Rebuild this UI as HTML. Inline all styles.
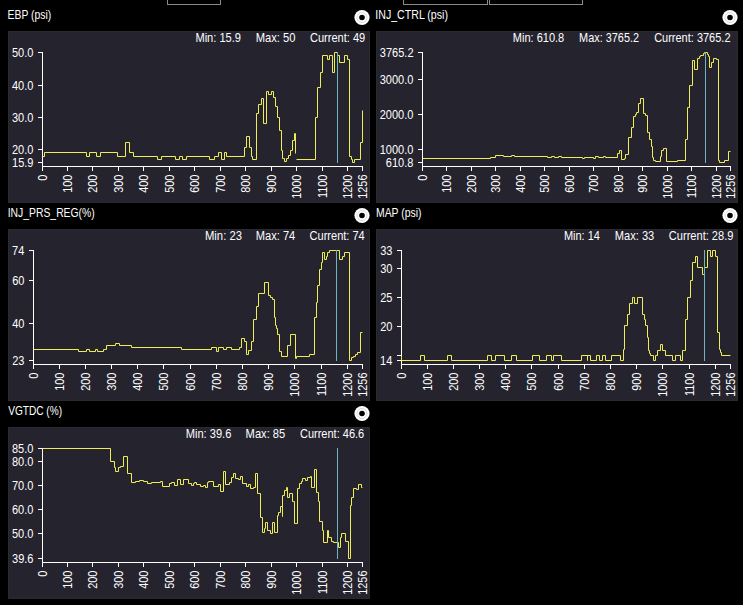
<!DOCTYPE html><html><head><meta charset="utf-8"><style>html,body{margin:0;padding:0;background:#000;}svg{display:block}</style></head><body>
<svg width="743" height="605" viewBox="0 0 743 605" font-family="&quot;Liberation Sans&quot;, sans-serif" font-size="12">
<rect x="0" y="0" width="743" height="605" fill="#000000"/>
<rect x="167" y="0" width="1" height="5" fill="#8a8a8a"/>
<rect x="220" y="0" width="1" height="5" fill="#8a8a8a"/>
<rect x="167" y="4" width="54" height="1" fill="#8a8a8a"/>
<rect x="403" y="0" width="1" height="5" fill="#8a8a8a"/>
<rect x="487" y="0" width="1" height="5" fill="#8a8a8a"/>
<rect x="403" y="4" width="85" height="1" fill="#8a8a8a"/>
<rect x="489" y="0" width="1" height="5" fill="#8a8a8a"/>
<rect x="582" y="0" width="1" height="5" fill="#8a8a8a"/>
<rect x="489" y="4" width="94" height="1" fill="#8a8a8a"/>
<rect x="8" y="31" width="362" height="172" fill="#24232e"/>
<rect x="8.5" y="31.5" width="361" height="171" fill="none" stroke="#2b2a2f" stroke-width="1"/>
<text transform="translate(7.55,19) scale(0.8658,1)" fill="#ffffff">EBP (psi)</text>
<circle cx="362" cy="17.5" r="7.6" fill="#ffffff"/>
<circle cx="362" cy="17.5" r="5" fill="none" stroke="#d8d8d8" stroke-width="1"/>
<circle cx="362" cy="17.5" r="2.8" fill="#000000"/>
<text transform="translate(195.39,42) scale(0.9264,1)" fill="#ffffff">Min: 15.9</text>
<text transform="translate(255.69,42) scale(0.9336,1)" fill="#ffffff">Max: 50</text>
<text transform="translate(309.94,42) scale(0.9225,1)" fill="#ffffff">Current: 49</text>
<rect x="42" y="52" width="1" height="119" fill="#ffffff"/>
<rect x="42" y="166" width="321" height="1" fill="#ffffff"/>
<rect x="38" y="52" width="4" height="1" fill="#ffffff"/>
<text transform="translate(11.94,57) scale(0.9200,1)" fill="#ffffff">50.0</text>
<rect x="38" y="85" width="4" height="1" fill="#ffffff"/>
<text transform="translate(11.94,90) scale(0.9200,1)" fill="#ffffff">40.0</text>
<rect x="38" y="117" width="4" height="1" fill="#ffffff"/>
<text transform="translate(11.94,122) scale(0.9200,1)" fill="#ffffff">30.0</text>
<rect x="38" y="149" width="4" height="1" fill="#ffffff"/>
<text transform="translate(11.94,154) scale(0.9200,1)" fill="#ffffff">20.0</text>
<rect x="38" y="162" width="4" height="1" fill="#ffffff"/>
<text transform="translate(12.03,167) scale(0.9200,1)" fill="#ffffff">15.9</text>
<rect x="42" y="167" width="1" height="4" fill="#ffffff"/>
<text transform="translate(47,180.65) rotate(-90) scale(0.9100,1)" fill="#ffffff">0</text>
<rect x="67" y="167" width="1" height="4" fill="#ffffff"/>
<text transform="translate(72,192.80) rotate(-90) scale(0.9100,1)" fill="#ffffff">100</text>
<rect x="92" y="167" width="1" height="4" fill="#ffffff"/>
<text transform="translate(97,192.80) rotate(-90) scale(0.9100,1)" fill="#ffffff">200</text>
<rect x="118" y="167" width="1" height="4" fill="#ffffff"/>
<text transform="translate(123,192.80) rotate(-90) scale(0.9100,1)" fill="#ffffff">300</text>
<rect x="143" y="167" width="1" height="4" fill="#ffffff"/>
<text transform="translate(148,192.80) rotate(-90) scale(0.9100,1)" fill="#ffffff">400</text>
<rect x="169" y="167" width="1" height="4" fill="#ffffff"/>
<text transform="translate(174,192.80) rotate(-90) scale(0.9100,1)" fill="#ffffff">500</text>
<rect x="194" y="167" width="1" height="4" fill="#ffffff"/>
<text transform="translate(199,192.80) rotate(-90) scale(0.9100,1)" fill="#ffffff">600</text>
<rect x="220" y="167" width="1" height="4" fill="#ffffff"/>
<text transform="translate(225,192.80) rotate(-90) scale(0.9100,1)" fill="#ffffff">700</text>
<rect x="245" y="167" width="1" height="4" fill="#ffffff"/>
<text transform="translate(250,192.80) rotate(-90) scale(0.9100,1)" fill="#ffffff">800</text>
<rect x="271" y="167" width="1" height="4" fill="#ffffff"/>
<text transform="translate(276,192.80) rotate(-90) scale(0.9100,1)" fill="#ffffff">900</text>
<rect x="296" y="167" width="1" height="4" fill="#ffffff"/>
<text transform="translate(301,198.87) rotate(-90) scale(0.9100,1)" fill="#ffffff">1000</text>
<rect x="322" y="167" width="1" height="4" fill="#ffffff"/>
<text transform="translate(327,198.06) rotate(-90) scale(0.9100,1)" fill="#ffffff">1100</text>
<rect x="347" y="167" width="1" height="4" fill="#ffffff"/>
<text transform="translate(352,198.87) rotate(-90) scale(0.9100,1)" fill="#ffffff">1200</text>
<rect x="362" y="167" width="1" height="4" fill="#ffffff"/>
<text transform="translate(367,198.81) rotate(-90) scale(0.9100,1)" fill="#ffffff">1256</text>
<path d="M42.5,156.5 L44.5,156.5 L44.5,152.5 L86.5,152.5 L86.5,156.5 L89.5,156.5 L89.5,152.5 L96.5,152.5 L96.5,156.5 L100.5,156.5 L100.5,152.5 L117.5,152.5 L117.5,156.5 L125.5,156.5 L125.5,142.5 L129.5,142.5 L129.5,152.5 L133.5,152.5 L133.5,156.5 L157.5,156.5 L157.5,159.5 L161.5,159.5 L161.5,156.5 L175.5,156.5 L175.5,159.5 L179.5,159.5 L179.5,156.5 L182.5,156.5 L182.5,159.5 L186.5,159.5 L186.5,156.5 L209.5,156.5 L209.5,159.5 L214.5,159.5 L214.5,156.5 L218.5,156.5 L218.5,152.5 L221.5,152.5 L221.5,159.5 L224.5,159.5 L224.5,152.5 L226.5,152.5 L226.5,156.5 L244.5,156.5 L244.5,147.5 L246.5,147.5 L246.5,136.5 L249.5,136.5 L249.5,147.5 L251.5,147.5 L251.5,156.5 L252.5,156.5 L252.5,159.5 L256.5,159.5 L256.5,113.5 L258.5,113.5 L258.5,104.5 L261.5,104.5 L261.5,98.5 L263.5,98.5 L263.5,123.5 L266.5,123.5 L266.5,91.5 L268.5,91.5 L268.5,94.5 L271.5,94.5 L271.5,91.5 L273.5,91.5 L273.5,97.5 L275.5,97.5 L275.5,106.5 L277.5,106.5 L277.5,117.5 L279.5,117.5 L279.5,130.5 L281.5,130.5 L281.5,150.5 L282.5,150.5 L282.5,158.5 L284.5,158.5 L284.5,161.5 L286.5,161.5 L286.5,158.5 L288.5,158.5 L288.5,155.5 L290.5,155.5 L290.5,150.5 L292.5,150.5 L292.5,140.5 L294.5,140.5 L294.5,133.5 L295.5,133.5 L295.5,153.5 L295.5,153.5" fill="none" stroke="#efed55" stroke-width="1" stroke-linejoin="miter"/>
<path d="M296.5,159.5 L315.5,159.5 L315.5,117.5 L317.5,117.5 L317.5,87.5 L320.5,87.5 L320.5,72.5 L322.5,72.5 L322.5,55.5 L327.5,55.5 L327.5,59.5 L329.5,59.5 L329.5,55.5 L332.5,55.5 L332.5,72.5 L334.5,72.5 L334.5,52.5 L337.5,52.5 L337.5,55.5 L339.5,55.5 L339.5,62.5 L344.5,62.5 L344.5,55.5 L347.5,55.5 L347.5,59.5 L349.5,59.5 L349.5,156.5 L351.5,156.5 L351.5,159.5 L352.5,159.5 L352.5,162.5 L354.5,162.5 L354.5,159.5 L360.5,159.5 L360.5,142.5 L362.5,142.5 L362.5,110.5 L362.5,110.5" fill="none" stroke="#efed55" stroke-width="1" stroke-linejoin="miter"/>
<rect x="337" y="52" width="1" height="111" fill="#6fb3c4"/>
<rect x="376" y="31" width="362" height="172" fill="#24232e"/>
<rect x="376.5" y="31.5" width="361" height="171" fill="none" stroke="#2b2a2f" stroke-width="1"/>
<text transform="translate(375.32,19) scale(0.8845,1)" fill="#ffffff">INJ_CTRL (psi)</text>
<circle cx="730" cy="17.5" r="7.6" fill="#ffffff"/>
<circle cx="730" cy="17.5" r="5" fill="none" stroke="#d8d8d8" stroke-width="1"/>
<circle cx="730" cy="17.5" r="2.8" fill="#000000"/>
<text transform="translate(512.80,42) scale(0.9188,1)" fill="#ffffff">Min: 610.8</text>
<text transform="translate(579.11,42) scale(0.9091,1)" fill="#ffffff">Max: 3765.2</text>
<text transform="translate(654.14,42) scale(0.9164,1)" fill="#ffffff">Current: 3765.2</text>
<rect x="422" y="52" width="1" height="119" fill="#ffffff"/>
<rect x="422" y="166" width="309" height="1" fill="#ffffff"/>
<rect x="418" y="52" width="4" height="1" fill="#ffffff"/>
<text transform="translate(379.79,57) scale(0.9200,1)" fill="#ffffff">3765.2</text>
<rect x="418" y="79" width="4" height="1" fill="#ffffff"/>
<text transform="translate(379.66,84) scale(0.9200,1)" fill="#ffffff">3000.0</text>
<rect x="418" y="114" width="4" height="1" fill="#ffffff"/>
<text transform="translate(379.66,119) scale(0.9200,1)" fill="#ffffff">2000.0</text>
<rect x="418" y="149" width="4" height="1" fill="#ffffff"/>
<text transform="translate(379.66,154) scale(0.9200,1)" fill="#ffffff">1000.0</text>
<rect x="418" y="162" width="4" height="1" fill="#ffffff"/>
<text transform="translate(385.85,167) scale(0.9200,1)" fill="#ffffff">610.8</text>
<rect x="422" y="167" width="1" height="4" fill="#ffffff"/>
<text transform="translate(427,180.65) rotate(-90) scale(0.9100,1)" fill="#ffffff">0</text>
<rect x="446" y="167" width="1" height="4" fill="#ffffff"/>
<text transform="translate(451,192.80) rotate(-90) scale(0.9100,1)" fill="#ffffff">100</text>
<rect x="471" y="167" width="1" height="4" fill="#ffffff"/>
<text transform="translate(476,192.80) rotate(-90) scale(0.9100,1)" fill="#ffffff">200</text>
<rect x="495" y="167" width="1" height="4" fill="#ffffff"/>
<text transform="translate(500,192.80) rotate(-90) scale(0.9100,1)" fill="#ffffff">300</text>
<rect x="520" y="167" width="1" height="4" fill="#ffffff"/>
<text transform="translate(525,192.80) rotate(-90) scale(0.9100,1)" fill="#ffffff">400</text>
<rect x="544" y="167" width="1" height="4" fill="#ffffff"/>
<text transform="translate(549,192.80) rotate(-90) scale(0.9100,1)" fill="#ffffff">500</text>
<rect x="569" y="167" width="1" height="4" fill="#ffffff"/>
<text transform="translate(574,192.80) rotate(-90) scale(0.9100,1)" fill="#ffffff">600</text>
<rect x="593" y="167" width="1" height="4" fill="#ffffff"/>
<text transform="translate(598,192.80) rotate(-90) scale(0.9100,1)" fill="#ffffff">700</text>
<rect x="618" y="167" width="1" height="4" fill="#ffffff"/>
<text transform="translate(623,192.80) rotate(-90) scale(0.9100,1)" fill="#ffffff">800</text>
<rect x="642" y="167" width="1" height="4" fill="#ffffff"/>
<text transform="translate(647,192.80) rotate(-90) scale(0.9100,1)" fill="#ffffff">900</text>
<rect x="667" y="167" width="1" height="4" fill="#ffffff"/>
<text transform="translate(672,198.87) rotate(-90) scale(0.9100,1)" fill="#ffffff">1000</text>
<rect x="691" y="167" width="1" height="4" fill="#ffffff"/>
<text transform="translate(696,198.06) rotate(-90) scale(0.9100,1)" fill="#ffffff">1100</text>
<rect x="716" y="167" width="1" height="4" fill="#ffffff"/>
<text transform="translate(721,198.87) rotate(-90) scale(0.9100,1)" fill="#ffffff">1200</text>
<rect x="730" y="167" width="1" height="4" fill="#ffffff"/>
<text transform="translate(735,198.81) rotate(-90) scale(0.9100,1)" fill="#ffffff">1256</text>
<path d="M422.5,158.5 L490.5,158.5 L490.5,157.5 L495.5,157.5 L495.5,155.5 L503.5,155.5 L503.5,156.5 L511.5,156.5 L511.5,155.5 L514.5,155.5 L514.5,156.5 L547.5,156.5 L547.5,157.5 L551.5,157.5 L551.5,156.5 L554.5,156.5 L554.5,157.5 L558.5,157.5 L558.5,156.5 L561.5,156.5 L561.5,157.5 L582.5,157.5 L582.5,158.5 L584.5,158.5 L584.5,157.5 L593.5,157.5 L593.5,158.5 L595.5,158.5 L595.5,156.5 L598.5,156.5 L598.5,157.5 L603.5,157.5 L603.5,156.5 L605.5,156.5 L605.5,157.5 L617.5,157.5 L617.5,153.5 L619.5,153.5 L619.5,150.5 L621.5,150.5 L621.5,159.5 L624.5,159.5 L624.5,158.5 L625.5,158.5 L625.5,154.5 L628.5,154.5 L628.5,137.5 L631.5,137.5 L631.5,127.5 L633.5,127.5 L633.5,116.5 L635.5,116.5 L635.5,114.5 L636.5,114.5 L636.5,112.5 L638.5,112.5 L638.5,103.5 L640.5,103.5 L640.5,98.5 L643.5,98.5 L643.5,113.5 L645.5,113.5 L645.5,115.5 L647.5,115.5 L647.5,132.5 L649.5,132.5 L649.5,139.5 L651.5,139.5 L651.5,146.5 L652.5,146.5 L652.5,157.5 L653.5,157.5 L653.5,160.5 L655.5,160.5 L655.5,161.5 L660.5,161.5 L660.5,156.5 L661.5,156.5 L661.5,150.5 L663.5,150.5 L663.5,148.5 L666.5,148.5 L666.5,161.5 L677.5,161.5 L677.5,160.5 L685.5,160.5 L685.5,139.5 L687.5,139.5 L687.5,107.5 L689.5,107.5 L689.5,85.5 L692.5,85.5 L692.5,60.5 L694.5,60.5 L694.5,69.5 L697.5,69.5 L697.5,58.5 L699.5,58.5 L699.5,56.5 L700.5,56.5 L700.5,55.5 L703.5,55.5 L703.5,53.5 L704.5,53.5 L704.5,52.5 L707.5,52.5 L707.5,54.5 L708.5,54.5 L708.5,56.5 L709.5,56.5 L709.5,67.5 L711.5,67.5 L711.5,62.5 L713.5,62.5 L713.5,58.5 L716.5,58.5 L716.5,59.5 L718.5,59.5 L718.5,160.5 L719.5,160.5 L719.5,162.5 L724.5,162.5 L724.5,160.5 L728.5,160.5 L728.5,151.5 L730.5,151.5" fill="none" stroke="#efed55" stroke-width="1" stroke-linejoin="miter"/>
<rect x="705" y="52" width="1" height="111" fill="#6fb3c4"/>
<rect x="8" y="229" width="362" height="172" fill="#24232e"/>
<rect x="8.5" y="229.5" width="361" height="171" fill="none" stroke="#2b2a2f" stroke-width="1"/>
<text transform="translate(7.74,217) scale(0.8651,1)" fill="#ffffff">INJ_PRS_REG(%)</text>
<circle cx="362" cy="215.5" r="7.6" fill="#ffffff"/>
<circle cx="362" cy="215.5" r="5" fill="none" stroke="#d8d8d8" stroke-width="1"/>
<circle cx="362" cy="215.5" r="2.8" fill="#000000"/>
<text transform="translate(204.98,240) scale(0.9406,1)" fill="#ffffff">Min: 23</text>
<text transform="translate(255.79,240) scale(0.9238,1)" fill="#ffffff">Max: 74</text>
<text transform="translate(309.54,240) scale(0.9209,1)" fill="#ffffff">Current: 74</text>
<rect x="33" y="250" width="1" height="119" fill="#ffffff"/>
<rect x="33" y="364" width="330" height="1" fill="#ffffff"/>
<rect x="29" y="250" width="4" height="1" fill="#ffffff"/>
<text transform="translate(12.05,255) scale(0.9200,1)" fill="#ffffff">74</text>
<rect x="29" y="280" width="4" height="1" fill="#ffffff"/>
<text transform="translate(12.15,285) scale(0.9200,1)" fill="#ffffff">60</text>
<rect x="29" y="323" width="4" height="1" fill="#ffffff"/>
<text transform="translate(12.15,328) scale(0.9200,1)" fill="#ffffff">40</text>
<rect x="29" y="360" width="4" height="1" fill="#ffffff"/>
<text transform="translate(12.21,365) scale(0.9200,1)" fill="#ffffff">23</text>
<rect x="33" y="365" width="1" height="4" fill="#ffffff"/>
<text transform="translate(38,378.65) rotate(-90) scale(0.9100,1)" fill="#ffffff">0</text>
<rect x="59" y="365" width="1" height="4" fill="#ffffff"/>
<text transform="translate(64,390.80) rotate(-90) scale(0.9100,1)" fill="#ffffff">100</text>
<rect x="85" y="365" width="1" height="4" fill="#ffffff"/>
<text transform="translate(90,390.80) rotate(-90) scale(0.9100,1)" fill="#ffffff">200</text>
<rect x="111" y="365" width="1" height="4" fill="#ffffff"/>
<text transform="translate(116,390.80) rotate(-90) scale(0.9100,1)" fill="#ffffff">300</text>
<rect x="137" y="365" width="1" height="4" fill="#ffffff"/>
<text transform="translate(142,390.80) rotate(-90) scale(0.9100,1)" fill="#ffffff">400</text>
<rect x="163" y="365" width="1" height="4" fill="#ffffff"/>
<text transform="translate(168,390.80) rotate(-90) scale(0.9100,1)" fill="#ffffff">500</text>
<rect x="190" y="365" width="1" height="4" fill="#ffffff"/>
<text transform="translate(195,390.80) rotate(-90) scale(0.9100,1)" fill="#ffffff">600</text>
<rect x="216" y="365" width="1" height="4" fill="#ffffff"/>
<text transform="translate(221,390.80) rotate(-90) scale(0.9100,1)" fill="#ffffff">700</text>
<rect x="242" y="365" width="1" height="4" fill="#ffffff"/>
<text transform="translate(247,390.80) rotate(-90) scale(0.9100,1)" fill="#ffffff">800</text>
<rect x="268" y="365" width="1" height="4" fill="#ffffff"/>
<text transform="translate(273,390.80) rotate(-90) scale(0.9100,1)" fill="#ffffff">900</text>
<rect x="294" y="365" width="1" height="4" fill="#ffffff"/>
<text transform="translate(299,396.87) rotate(-90) scale(0.9100,1)" fill="#ffffff">1000</text>
<rect x="321" y="365" width="1" height="4" fill="#ffffff"/>
<text transform="translate(326,396.06) rotate(-90) scale(0.9100,1)" fill="#ffffff">1100</text>
<rect x="347" y="365" width="1" height="4" fill="#ffffff"/>
<text transform="translate(352,396.87) rotate(-90) scale(0.9100,1)" fill="#ffffff">1200</text>
<rect x="362" y="365" width="1" height="4" fill="#ffffff"/>
<text transform="translate(367,396.81) rotate(-90) scale(0.9100,1)" fill="#ffffff">1256</text>
<path d="M33.5,349.5 L78.5,349.5 L78.5,351.5 L86.5,351.5 L86.5,349.5 L89.5,349.5 L89.5,351.5 L95.5,351.5 L95.5,349.5 L97.5,349.5 L97.5,351.5 L103.5,351.5 L103.5,349.5 L106.5,349.5 L106.5,345.5 L115.5,345.5 L115.5,343.5 L119.5,343.5 L119.5,345.5 L131.5,345.5 L131.5,347.5 L181.5,347.5 L181.5,349.5 L211.5,349.5 L211.5,347.5 L216.5,347.5 L216.5,351.5 L218.5,351.5 L218.5,347.5 L223.5,347.5 L223.5,349.5 L226.5,349.5 L226.5,347.5 L231.5,347.5 L231.5,349.5 L239.5,349.5 L239.5,347.5 L241.5,347.5 L241.5,338.5 L244.5,338.5 L244.5,341.5 L246.5,341.5 L246.5,354.5 L248.5,354.5 L248.5,350.5 L251.5,350.5 L251.5,341.5 L253.5,341.5 L253.5,319.5 L256.5,319.5 L256.5,306.5 L258.5,306.5 L258.5,293.5 L264.5,293.5 L264.5,282.5 L268.5,282.5 L268.5,295.5 L270.5,295.5 L270.5,297.5 L272.5,297.5 L272.5,299.5 L274.5,299.5 L274.5,317.5 L275.5,317.5 L275.5,325.5 L276.5,325.5 L276.5,328.5 L277.5,328.5 L277.5,334.5 L279.5,334.5 L279.5,351.5 L281.5,351.5 L281.5,356.5 L287.5,356.5 L287.5,345.5 L290.5,345.5 L290.5,334.5 L295.5,334.5 L295.5,358.5 L296.5,358.5 L296.5,356.5 L309.5,356.5 L309.5,354.5 L314.5,354.5 L314.5,317.5 L316.5,317.5 L316.5,302.5 L317.5,302.5 L317.5,285.5 L319.5,285.5 L319.5,269.5 L321.5,269.5 L321.5,262.5 L322.5,262.5 L322.5,252.5 L324.5,252.5 L324.5,259.5 L326.5,259.5 L326.5,256.5 L327.5,256.5 L327.5,252.5 L329.5,252.5 L329.5,250.5 L339.5,250.5 L339.5,259.5 L342.5,259.5 L342.5,256.5 L344.5,256.5 L344.5,252.5 L349.5,252.5 L349.5,360.5 L351.5,360.5 L351.5,357.5 L353.5,357.5 L353.5,356.5 L355.5,356.5 L355.5,354.5 L357.5,354.5 L357.5,352.5 L360.5,352.5 L360.5,332.5 L362.5,332.5" fill="none" stroke="#efed55" stroke-width="1" stroke-linejoin="miter"/>
<rect x="336" y="250" width="1" height="111" fill="#6fb3c4"/>
<rect x="376" y="229" width="362" height="172" fill="#24232e"/>
<rect x="376.5" y="229.5" width="361" height="171" fill="none" stroke="#2b2a2f" stroke-width="1"/>
<text transform="translate(375.95,217) scale(0.8693,1)" fill="#ffffff">MAP (psi)</text>
<circle cx="730" cy="215.5" r="7.6" fill="#ffffff"/>
<circle cx="730" cy="215.5" r="5" fill="none" stroke="#d8d8d8" stroke-width="1"/>
<circle cx="730" cy="215.5" r="2.8" fill="#000000"/>
<text transform="translate(563.90,240) scale(0.9179,1)" fill="#ffffff">Min: 14</text>
<text transform="translate(614.79,240) scale(0.9252,1)" fill="#ffffff">Max: 33</text>
<text transform="translate(668.84,240) scale(0.9222,1)" fill="#ffffff">Current: 28.9</text>
<rect x="401" y="250" width="1" height="119" fill="#ffffff"/>
<rect x="401" y="364" width="330" height="1" fill="#ffffff"/>
<rect x="397" y="250" width="4" height="1" fill="#ffffff"/>
<text transform="translate(380.21,255) scale(0.9200,1)" fill="#ffffff">33</text>
<rect x="397" y="268" width="4" height="1" fill="#ffffff"/>
<text transform="translate(380.15,273) scale(0.9200,1)" fill="#ffffff">30</text>
<rect x="397" y="297" width="4" height="1" fill="#ffffff"/>
<text transform="translate(380.19,302) scale(0.9200,1)" fill="#ffffff">25</text>
<rect x="397" y="326" width="4" height="1" fill="#ffffff"/>
<text transform="translate(380.15,331) scale(0.9200,1)" fill="#ffffff">20</text>
<rect x="397" y="355" width="4" height="1" fill="#ffffff"/>
<rect x="397" y="360" width="4" height="1" fill="#ffffff"/>
<text transform="translate(380.05,365) scale(0.9200,1)" fill="#ffffff">14</text>
<rect x="401" y="365" width="1" height="4" fill="#ffffff"/>
<text transform="translate(406,378.65) rotate(-90) scale(0.9100,1)" fill="#ffffff">0</text>
<rect x="427" y="365" width="1" height="4" fill="#ffffff"/>
<text transform="translate(432,390.80) rotate(-90) scale(0.9100,1)" fill="#ffffff">100</text>
<rect x="453" y="365" width="1" height="4" fill="#ffffff"/>
<text transform="translate(458,390.80) rotate(-90) scale(0.9100,1)" fill="#ffffff">200</text>
<rect x="479" y="365" width="1" height="4" fill="#ffffff"/>
<text transform="translate(484,390.80) rotate(-90) scale(0.9100,1)" fill="#ffffff">300</text>
<rect x="505" y="365" width="1" height="4" fill="#ffffff"/>
<text transform="translate(510,390.80) rotate(-90) scale(0.9100,1)" fill="#ffffff">400</text>
<rect x="531" y="365" width="1" height="4" fill="#ffffff"/>
<text transform="translate(536,390.80) rotate(-90) scale(0.9100,1)" fill="#ffffff">500</text>
<rect x="558" y="365" width="1" height="4" fill="#ffffff"/>
<text transform="translate(563,390.80) rotate(-90) scale(0.9100,1)" fill="#ffffff">600</text>
<rect x="584" y="365" width="1" height="4" fill="#ffffff"/>
<text transform="translate(589,390.80) rotate(-90) scale(0.9100,1)" fill="#ffffff">700</text>
<rect x="610" y="365" width="1" height="4" fill="#ffffff"/>
<text transform="translate(615,390.80) rotate(-90) scale(0.9100,1)" fill="#ffffff">800</text>
<rect x="636" y="365" width="1" height="4" fill="#ffffff"/>
<text transform="translate(641,390.80) rotate(-90) scale(0.9100,1)" fill="#ffffff">900</text>
<rect x="662" y="365" width="1" height="4" fill="#ffffff"/>
<text transform="translate(667,396.87) rotate(-90) scale(0.9100,1)" fill="#ffffff">1000</text>
<rect x="689" y="365" width="1" height="4" fill="#ffffff"/>
<text transform="translate(694,396.06) rotate(-90) scale(0.9100,1)" fill="#ffffff">1100</text>
<rect x="715" y="365" width="1" height="4" fill="#ffffff"/>
<text transform="translate(720,396.87) rotate(-90) scale(0.9100,1)" fill="#ffffff">1200</text>
<rect x="730" y="365" width="1" height="4" fill="#ffffff"/>
<text transform="translate(735,396.81) rotate(-90) scale(0.9100,1)" fill="#ffffff">1256</text>
<path d="M401.5,355.5 L401.5,355.5 L401.5,360.5 L420.5,360.5 L420.5,355.5 L424.5,355.5 L424.5,360.5 L447.5,360.5 L447.5,355.5 L451.5,355.5 L451.5,360.5 L487.5,360.5 L487.5,355.5 L491.5,355.5 L491.5,360.5 L495.5,360.5 L495.5,355.5 L504.5,355.5 L504.5,360.5 L511.5,360.5 L511.5,355.5 L516.5,355.5 L516.5,360.5 L532.5,360.5 L532.5,355.5 L539.5,355.5 L539.5,360.5 L546.5,360.5 L546.5,355.5 L551.5,355.5 L551.5,360.5 L553.5,360.5 L553.5,355.5 L561.5,355.5 L561.5,360.5 L581.5,360.5 L581.5,355.5 L587.5,355.5 L587.5,360.5 L587.5,360.5 L587.5,355.5 L590.5,355.5 L590.5,360.5 L596.5,360.5 L596.5,355.5 L599.5,355.5 L599.5,360.5 L602.5,360.5 L602.5,355.5 L605.5,355.5 L605.5,360.5 L611.5,360.5 L611.5,355.5 L620.5,355.5 L620.5,360.5 L623.5,360.5 L623.5,349.5 L624.5,349.5 L624.5,325.5 L627.5,325.5 L627.5,314.5 L629.5,314.5 L629.5,303.5 L632.5,303.5 L632.5,297.5 L634.5,297.5 L634.5,303.5 L637.5,303.5 L637.5,297.5 L642.5,297.5 L642.5,314.5 L644.5,314.5 L644.5,319.5 L645.5,319.5 L645.5,325.5 L647.5,325.5 L647.5,337.5 L648.5,337.5 L648.5,350.5 L649.5,350.5 L649.5,353.5 L650.5,353.5 L650.5,355.5 L653.5,355.5 L653.5,360.5 L655.5,360.5 L655.5,355.5 L657.5,355.5 L657.5,350.5 L660.5,350.5 L660.5,344.5 L662.5,344.5 L662.5,350.5 L665.5,350.5 L665.5,355.5 L672.5,355.5 L672.5,360.5 L675.5,360.5 L675.5,355.5 L680.5,355.5 L680.5,360.5 L682.5,360.5 L682.5,350.5 L685.5,350.5 L685.5,319.5 L687.5,319.5 L687.5,297.5 L690.5,297.5 L690.5,280.5 L692.5,280.5 L692.5,262.5 L695.5,262.5 L695.5,256.5 L697.5,256.5 L697.5,267.5 L702.5,267.5 L702.5,274.5 L704.5,274.5 L704.5,267.5 L707.5,267.5 L707.5,250.5 L710.5,250.5 L710.5,256.5 L712.5,256.5 L712.5,250.5 L715.5,250.5 L715.5,256.5 L717.5,256.5 L717.5,332.5 L719.5,332.5 L719.5,349.5 L720.5,349.5 L720.5,352.5 L721.5,352.5 L721.5,355.5 L730.5,355.5" fill="none" stroke="#efed55" stroke-width="1" stroke-linejoin="miter"/>
<rect x="704" y="250" width="1" height="111" fill="#6fb3c4"/>
<rect x="8" y="427" width="362" height="172" fill="#24232e"/>
<rect x="8.5" y="427.5" width="361" height="171" fill="none" stroke="#2b2a2f" stroke-width="1"/>
<text transform="translate(8.16,415) scale(0.8434,1)" fill="#ffffff">VGTDC (%)</text>
<circle cx="362" cy="413.5" r="7.6" fill="#ffffff"/>
<circle cx="362" cy="413.5" r="5" fill="none" stroke="#d8d8d8" stroke-width="1"/>
<circle cx="362" cy="413.5" r="2.8" fill="#000000"/>
<text transform="translate(185.69,438) scale(0.9256,1)" fill="#ffffff">Min: 39.6</text>
<text transform="translate(245.59,438) scale(0.9296,1)" fill="#ffffff">Max: 85</text>
<text transform="translate(299.94,438) scale(0.9187,1)" fill="#ffffff">Current: 46.6</text>
<rect x="42" y="448" width="1" height="119" fill="#ffffff"/>
<rect x="42" y="562" width="321" height="1" fill="#ffffff"/>
<rect x="38" y="448" width="4" height="1" fill="#ffffff"/>
<text transform="translate(11.94,453) scale(0.9200,1)" fill="#ffffff">85.0</text>
<rect x="38" y="461" width="4" height="1" fill="#ffffff"/>
<text transform="translate(11.94,466) scale(0.9200,1)" fill="#ffffff">80.0</text>
<rect x="38" y="485" width="4" height="1" fill="#ffffff"/>
<text transform="translate(11.94,490) scale(0.9200,1)" fill="#ffffff">70.0</text>
<rect x="38" y="509" width="4" height="1" fill="#ffffff"/>
<text transform="translate(11.94,514) scale(0.9200,1)" fill="#ffffff">60.0</text>
<rect x="38" y="533" width="4" height="1" fill="#ffffff"/>
<text transform="translate(11.94,538) scale(0.9200,1)" fill="#ffffff">50.0</text>
<rect x="38" y="558" width="4" height="1" fill="#ffffff"/>
<text transform="translate(12.00,563) scale(0.9200,1)" fill="#ffffff">39.6</text>
<rect x="42" y="563" width="1" height="4" fill="#ffffff"/>
<text transform="translate(47,576.65) rotate(-90) scale(0.9100,1)" fill="#ffffff">0</text>
<rect x="67" y="563" width="1" height="4" fill="#ffffff"/>
<text transform="translate(72,588.80) rotate(-90) scale(0.9100,1)" fill="#ffffff">100</text>
<rect x="92" y="563" width="1" height="4" fill="#ffffff"/>
<text transform="translate(97,588.80) rotate(-90) scale(0.9100,1)" fill="#ffffff">200</text>
<rect x="118" y="563" width="1" height="4" fill="#ffffff"/>
<text transform="translate(123,588.80) rotate(-90) scale(0.9100,1)" fill="#ffffff">300</text>
<rect x="143" y="563" width="1" height="4" fill="#ffffff"/>
<text transform="translate(148,588.80) rotate(-90) scale(0.9100,1)" fill="#ffffff">400</text>
<rect x="169" y="563" width="1" height="4" fill="#ffffff"/>
<text transform="translate(174,588.80) rotate(-90) scale(0.9100,1)" fill="#ffffff">500</text>
<rect x="194" y="563" width="1" height="4" fill="#ffffff"/>
<text transform="translate(199,588.80) rotate(-90) scale(0.9100,1)" fill="#ffffff">600</text>
<rect x="220" y="563" width="1" height="4" fill="#ffffff"/>
<text transform="translate(225,588.80) rotate(-90) scale(0.9100,1)" fill="#ffffff">700</text>
<rect x="245" y="563" width="1" height="4" fill="#ffffff"/>
<text transform="translate(250,588.80) rotate(-90) scale(0.9100,1)" fill="#ffffff">800</text>
<rect x="271" y="563" width="1" height="4" fill="#ffffff"/>
<text transform="translate(276,588.80) rotate(-90) scale(0.9100,1)" fill="#ffffff">900</text>
<rect x="296" y="563" width="1" height="4" fill="#ffffff"/>
<text transform="translate(301,594.87) rotate(-90) scale(0.9100,1)" fill="#ffffff">1000</text>
<rect x="322" y="563" width="1" height="4" fill="#ffffff"/>
<text transform="translate(327,594.06) rotate(-90) scale(0.9100,1)" fill="#ffffff">1100</text>
<rect x="347" y="563" width="1" height="4" fill="#ffffff"/>
<text transform="translate(352,594.87) rotate(-90) scale(0.9100,1)" fill="#ffffff">1200</text>
<rect x="362" y="563" width="1" height="4" fill="#ffffff"/>
<text transform="translate(367,594.81) rotate(-90) scale(0.9100,1)" fill="#ffffff">1256</text>
<path d="M42.5,448.5 L110.5,448.5 L110.5,461.5 L114.5,461.5 L114.5,467.5 L115.5,467.5 L115.5,471.5 L118.5,471.5 L118.5,467.5 L120.5,467.5 L120.5,466.5 L123.5,466.5 L123.5,456.5 L127.5,456.5 L127.5,473.5 L131.5,473.5 L131.5,482.5 L135.5,482.5 L135.5,481.5 L139.5,481.5 L139.5,480.5 L143.5,480.5 L143.5,481.5 L147.5,481.5 L147.5,483.5 L151.5,483.5 L151.5,482.5 L160.5,482.5 L160.5,481.5 L162.5,481.5 L162.5,486.5 L169.5,486.5 L169.5,483.5 L171.5,483.5 L171.5,482.5 L174.5,482.5 L174.5,485.5 L177.5,485.5 L177.5,479.5 L180.5,479.5 L180.5,484.5 L183.5,484.5 L183.5,479.5 L188.5,479.5 L188.5,483.5 L191.5,483.5 L191.5,485.5 L193.5,485.5 L193.5,483.5 L194.5,483.5 L194.5,482.5 L196.5,482.5 L196.5,484.5 L200.5,484.5 L200.5,486.5 L203.5,486.5 L203.5,485.5 L205.5,485.5 L205.5,487.5 L207.5,487.5 L207.5,482.5 L208.5,482.5 L208.5,481.5 L213.5,481.5 L213.5,486.5 L218.5,486.5 L218.5,484.5 L220.5,484.5 L220.5,491.5 L223.5,491.5 L223.5,471.5 L225.5,471.5 L225.5,484.5 L229.5,484.5 L229.5,482.5 L231.5,482.5 L231.5,477.5 L233.5,477.5 L233.5,473.5 L235.5,473.5 L235.5,478.5 L238.5,478.5 L238.5,479.5 L240.5,479.5 L240.5,476.5 L242.5,476.5 L242.5,483.5 L246.5,483.5 L246.5,486.5 L248.5,486.5 L248.5,484.5 L250.5,484.5 L250.5,488.5 L253.5,488.5 L253.5,487.5 L255.5,487.5 L255.5,473.5 L257.5,473.5 L257.5,493.5 L260.5,493.5 L260.5,517.5 L262.5,517.5 L262.5,532.5 L264.5,532.5 L264.5,528.5 L265.5,528.5 L265.5,522.5 L267.5,522.5 L267.5,530.5 L270.5,530.5 L270.5,533.5 L272.5,533.5 L272.5,522.5 L274.5,522.5 L274.5,532.5 L277.5,532.5 L277.5,515.5 L278.5,515.5 L278.5,512.5 L280.5,512.5 L280.5,506.5 L282.5,506.5 L282.5,516.5 L282.5,516.5 L282.5,495.5 L284.5,495.5 L284.5,490.5 L286.5,490.5 L286.5,487.5 L287.5,487.5 L287.5,497.5 L289.5,497.5 L289.5,493.5 L292.5,493.5 L292.5,501.5 L294.5,501.5 L294.5,523.5 L297.5,523.5 L297.5,488.5 L299.5,488.5 L299.5,483.5 L301.5,483.5 L301.5,481.5 L302.5,481.5 L302.5,478.5 L305.5,478.5 L305.5,480.5 L307.5,480.5 L307.5,477.5 L310.5,477.5 L310.5,476.5 L311.5,476.5 L311.5,487.5 L314.5,487.5 L314.5,469.5 L316.5,469.5 L316.5,492.5 L318.5,492.5 L318.5,501.5 L319.5,501.5 L319.5,521.5 L322.5,521.5 L322.5,530.5 L323.5,530.5 L323.5,542.5 L327.5,542.5 L327.5,530.5 L328.5,530.5 L328.5,537.5 L331.5,537.5 L331.5,541.5 L333.5,541.5 L333.5,542.5 L338.5,542.5 L338.5,547.5 L340.5,547.5 L340.5,537.5 L341.5,537.5 L341.5,533.5 L345.5,533.5 L345.5,541.5 L348.5,541.5 L348.5,558.5 L350.5,558.5 L350.5,505.5 L351.5,505.5 L351.5,497.5 L353.5,497.5 L353.5,488.5 L356.5,488.5 L356.5,489.5 L358.5,489.5 L358.5,484.5 L361.5,484.5 L361.5,487.5 L362.5,487.5" fill="none" stroke="#efed55" stroke-width="1" stroke-linejoin="miter"/>
<rect x="337" y="448" width="1" height="111" fill="#6fb3c4"/>
</svg></body></html>
